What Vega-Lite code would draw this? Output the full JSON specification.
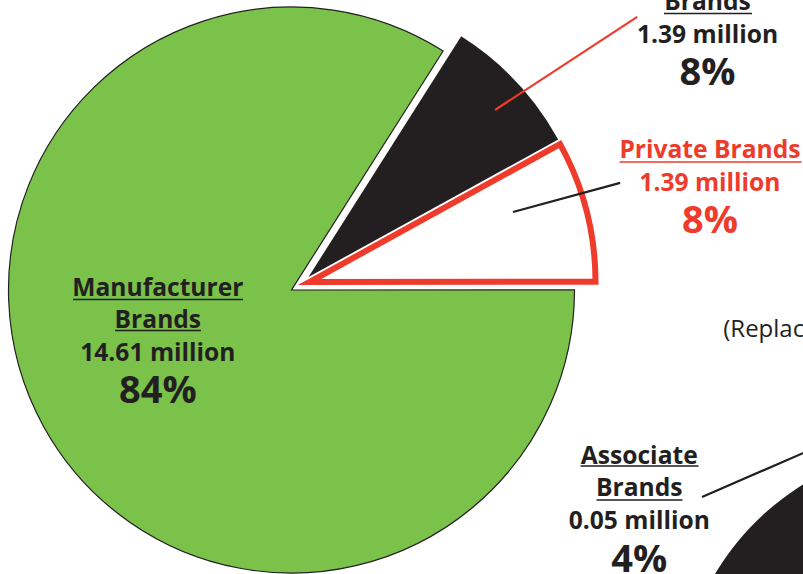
{
  "$schema": "https://vega.github.io/schema/vega-lite/v6.json",
  "autosize": {"type": "none"},
  "width": 583,
  "height": 580,
  "padding": {"left": 0, "top": 0, "right": 220, "bottom": 0},
  "background": "white",
  "config": {"view": {"stroke": null}, "text": {"font": "Open Sans", "fontWeight": "bold", "fontSize": 24.6, "align": "center", "baseline": "alphabetic", "color": "#231f20"}},
  "datasets": {
    "brands": [
      {"brand": "Manufacturer Brands", "millions": 14.61, "share": "84%"},
      {"brand": "Store Brands", "millions": 1.39, "share": "8%"},
      {"brand": "Private Brands", "millions": 1.39, "share": "8%"}
    ],
    "associate": [
      {"brand": "Associate Brands", "millions": 0.05, "share": "4%"}
    ]
  },
  "resolve": {"scale": {"theta": "independent"}},
  "layer": [
    {
      "data": {"name": "brands"},
      "mark": {"type": "arc", "outerRadius": 283, "fill": "#7bc24a", "stroke": "#231f20", "strokeWidth": 1.2},
      "encoding": {
        "theta": {"field": "millions", "type": "quantitative", "stack": true, "scale": {"range": [0.5655, 6.8487]}},
        "order": {"field": "brand", "sort": "descending"},
        "opacity": {"condition": {"test": "datum.brand === 'Manufacturer Brands'", "value": 1}, "value": 0}
      }
    },
    {
      "data": {"name": "brands"},
      "mark": {"type": "arc", "outerRadius": 285, "fill": "#231f20", "xOffset": 17, "yOffset": -13},
      "encoding": {
        "theta": {"field": "millions", "type": "quantitative", "stack": true, "scale": {"range": [0.5655, 6.8487]}},
        "order": {"field": "brand", "sort": "descending"},
        "opacity": {"condition": {"test": "datum.brand === 'Store Brands'", "value": 1}, "value": 0}
      }
    },
    {
      "data": {"name": "brands"},
      "mark": {"type": "arc", "outerRadius": 286, "fill": "#ffffff", "stroke": "#ee3b2b", "strokeWidth": 6, "strokeMiterLimit": 10, "xOffset": 18, "yOffset": -8},
      "encoding": {
        "theta": {"field": "millions", "type": "quantitative", "stack": true, "scale": {"range": [0.5655, 6.8487]}},
        "order": {"field": "brand", "sort": "descending"},
        "opacity": {"condition": {"test": "datum.brand === 'Private Brands'", "value": 1}, "value": 0}
      }
    },
    {
      "data": {"name": "brands"},
      "mark": {"type": "arc", "innerRadius": 50, "outerRadius": 220, "padAngle": 3, "fill": "#ee3b2b", "stroke": "#ee3b2b", "strokeWidth": 2.2, "xOffset": 161.7, "yOffset": -152.6},
      "encoding": {
        "theta": {"field": "millions", "type": "quantitative", "stack": true, "scale": {"domain": [0, 100], "range": [0.947, 7.2302]}},
        "order": {"field": "brand", "sort": "descending"},
        "opacity": {"condition": {"test": "datum.brand === 'Store Brands'", "value": 1}, "value": 0}
      }
    },
    {
      "data": {"name": "brands"},
      "mark": {"type": "arc", "innerRadius": 50, "outerRadius": 161, "padAngle": 3, "fill": "#231f20", "stroke": "#231f20", "strokeWidth": 2.2, "xOffset": 173.25, "yOffset": -64.9},
      "encoding": {
        "theta": {"field": "millions", "type": "quantitative", "stack": true, "scale": {"domain": [0, 100], "range": [1.1745, 7.4577]}},
        "order": {"field": "brand", "sort": "descending"},
        "opacity": {"condition": {"test": "datum.brand === 'Private Brands'", "value": 1}, "value": 0}
      }
    },
    {
      "data": {"name": "brands"},
      "mark": {"type": "arc", "innerRadius": 50, "outerRadius": 220, "padAngle": 3, "fill": "#231f20", "stroke": "#231f20", "strokeWidth": 1.6, "xOffset": -268.5, "yOffset": 9.5},
      "encoding": {
        "theta": {"field": "millions", "type": "quantitative", "stack": true, "scale": {"domain": [0, 100], "range": [0.9371, 7.2203]}},
        "order": {"field": "brand", "sort": "descending"},
        "opacity": {"condition": {"test": "datum.brand === 'Manufacturer Brands'", "value": 1}, "value": 0}
      }
    },
    {
      "data": {"name": "brands"},
      "mark": {"type": "arc", "innerRadius": 50, "outerRadius": 136, "padAngle": 3, "fill": "#231f20", "stroke": "#231f20", "strokeWidth": 1.6, "xOffset": -226.5, "yOffset": 40.5},
      "encoding": {
        "theta": {"field": "millions", "type": "quantitative", "stack": true, "scale": {"domain": [0, 100], "range": [0.9371, 7.2203]}},
        "order": {"field": "brand", "sort": "descending"},
        "opacity": {"condition": {"test": "datum.brand === 'Manufacturer Brands'", "value": 1}, "value": 0}
      }
    },
    {
      "data": {"name": "brands"},
      "mark": {"type": "arc", "innerRadius": 50, "outerRadius": 138, "padAngle": 3, "fill": "#231f20", "stroke": "#231f20", "strokeWidth": 1.6, "xOffset": 322.5, "yOffset": -276.5},
      "encoding": {
        "theta": {"field": "millions", "type": "quantitative", "stack": true, "scale": {"domain": [0, 100], "range": [1.5271, 7.8103]}},
        "order": {"field": "brand", "sort": "descending"},
        "opacity": {"condition": {"test": "datum.brand === 'Store Brands'", "value": 1}, "value": 0}
      }
    },
    {
      "data": {"name": "brands"},
      "mark": {"type": "arc", "innerRadius": 50, "outerRadius": 232, "padAngle": 3, "fill": "#ee3b2b", "stroke": "#ee3b2b", "strokeWidth": 1.6, "xOffset": 278, "yOffset": -128},
      "encoding": {
        "theta": {"field": "millions", "type": "quantitative", "stack": true, "scale": {"domain": [0, 100], "range": [1.4398, 7.723]}},
        "order": {"field": "brand", "sort": "descending"},
        "opacity": {"condition": {"test": "datum.brand === 'Private Brands'", "value": 1}, "value": 0}
      }
    },
    {
      "data": {"name": "brands"},
      "mark": {"type": "text", "radius": 140, "dx": -11, "dy": -61.5, "lineBreak": " ", "lineHeight": 32},
      "encoding": {
        "theta": {"field": "millions", "type": "quantitative", "stack": true, "scale": {"range": [0.5655, 6.8487]}},
        "order": {"field": "brand", "sort": "descending"},
        "text": {"condition": {"test": "datum.brand === 'Manufacturer Brands'", "field": "brand"}, "value": ""}
      }
    },
    {
      "data": {"name": "brands"},
      "transform": [{"calculate": "format(datum.millions, '.2f') + ' million'", "as": "amount"}],
      "mark": {"type": "text", "radius": 140, "dx": -11, "dy": 3.5},
      "encoding": {
        "theta": {"field": "millions", "type": "quantitative", "stack": true, "scale": {"range": [0.5655, 6.8487]}},
        "order": {"field": "brand", "sort": "descending"},
        "text": {"condition": {"test": "datum.brand === 'Manufacturer Brands'", "field": "amount"}, "value": ""}
      }
    },
    {
      "data": {"name": "brands"},
      "mark": {"type": "text", "radius": 140, "dx": -11, "dy": 45.5, "fontSize": 38},
      "encoding": {
        "theta": {"field": "millions", "type": "quantitative", "stack": true, "scale": {"range": [0.5655, 6.8487]}},
        "order": {"field": "brand", "sort": "descending"},
        "text": {"condition": {"test": "datum.brand === 'Manufacturer Brands'", "field": "share"}, "value": ""}
      }
    },
    {
      "data": {"name": "brands"},
      "mark": {"type": "text", "radius": 450, "dx": 88, "dy": -4, "lineBreak": " ", "lineHeight": 32},
      "encoding": {
        "theta": {"field": "millions", "type": "quantitative", "stack": true, "scale": {"range": [0.5655, 6.8487]}},
        "order": {"field": "brand", "sort": "descending"},
        "text": {"condition": {"test": "datum.brand === 'Store Brands'", "field": "brand"}, "value": ""}
      }
    },
    {
      "data": {"name": "brands"},
      "transform": [{"calculate": "format(datum.millions, '.2f') + ' million'", "as": "amount"}],
      "mark": {"type": "text", "radius": 450, "dx": 88, "dy": 61},
      "encoding": {
        "theta": {"field": "millions", "type": "quantitative", "stack": true, "scale": {"range": [0.5655, 6.8487]}},
        "order": {"field": "brand", "sort": "descending"},
        "text": {"condition": {"test": "datum.brand === 'Store Brands'", "field": "amount"}, "value": ""}
      }
    },
    {
      "data": {"name": "brands"},
      "mark": {"type": "text", "radius": 450, "dx": 88, "dy": 103, "fontSize": 38},
      "encoding": {
        "theta": {"field": "millions", "type": "quantitative", "stack": true, "scale": {"range": [0.5655, 6.8487]}},
        "order": {"field": "brand", "sort": "descending"},
        "text": {"condition": {"test": "datum.brand === 'Store Brands'", "field": "share"}, "value": ""}
      }
    },
    {
      "data": {"name": "brands"},
      "mark": {"type": "text", "radius": 430, "dx": 2, "dy": -25, "color": "#ee3b2b"},
      "encoding": {
        "theta": {"field": "millions", "type": "quantitative", "stack": true, "scale": {"range": [0.5655, 6.8487]}},
        "order": {"field": "brand", "sort": "descending"},
        "text": {"condition": {"test": "datum.brand === 'Private Brands'", "field": "brand"}, "value": ""}
      }
    },
    {
      "data": {"name": "brands"},
      "transform": [{"calculate": "format(datum.millions, '.2f') + ' million'", "as": "amount"}],
      "mark": {"type": "text", "radius": 430, "dx": 2, "dy": 8, "color": "#ee3b2b"},
      "encoding": {
        "theta": {"field": "millions", "type": "quantitative", "stack": true, "scale": {"range": [0.5655, 6.8487]}},
        "order": {"field": "brand", "sort": "descending"},
        "text": {"condition": {"test": "datum.brand === 'Private Brands'", "field": "amount"}, "value": ""}
      }
    },
    {
      "data": {"name": "brands"},
      "mark": {"type": "text", "radius": 430, "dx": 2, "dy": 50, "fontSize": 38, "color": "#ee3b2b"},
      "encoding": {
        "theta": {"field": "millions", "type": "quantitative", "stack": true, "scale": {"range": [0.5655, 6.8487]}},
        "order": {"field": "brand", "sort": "descending"},
        "text": {"condition": {"test": "datum.brand === 'Private Brands'", "field": "share"}, "value": ""}
      }
    },
    {
      "data": {"name": "associate"},
      "mark": {"type": "arc", "outerRadius": 263, "fill": "#231f20", "xOffset": 648.5, "yOffset": 420},
      "encoding": {
        "theta": {"field": "millions", "type": "quantitative", "stack": true, "scale": {"range": [2.157, 8.44]}}
      }
    },
    {
      "data": {"name": "associate"},
      "mark": {"type": "arc", "innerRadius": 50, "outerRadius": 170, "padAngle": 3, "fill": "#231f20", "stroke": "#231f20", "strokeWidth": 2.2, "xOffset": 364.65, "yOffset": 226.95},
      "encoding": {
        "theta": {"field": "millions", "type": "quantitative", "stack": true, "scale": {"domain": [0, 100], "range": [1.1591, 7.4423]}}
      }
    },
    {
      "data": {"name": "associate"},
      "mark": {"type": "arc", "innerRadius": 50, "outerRadius": 168, "padAngle": 3, "fill": "#231f20", "stroke": "#231f20", "strokeWidth": 1.6, "xOffset": 239, "yOffset": 176},
      "encoding": {
        "theta": {"field": "millions", "type": "quantitative", "stack": true, "scale": {"domain": [0, 100], "range": [1.5692, 7.8524]}}
      }
    },
    {
      "data": {"name": "associate"},
      "mark": {"type": "arc", "innerRadius": 50, "outerRadius": 136, "padAngle": 3, "fill": "#231f20", "stroke": "#231f20", "strokeWidth": 1.6, "xOffset": 255, "yOffset": 210},
      "encoding": {
        "theta": {"field": "millions", "type": "quantitative", "stack": true, "scale": {"domain": [0, 100], "range": [1.5692, 7.8524]}}
      }
    },
    {
      "data": {"name": "associate"},
      "mark": {"type": "text", "radius": 361, "xOffset": 648.5, "yOffset": 420, "dy": -46, "lineBreak": " ", "lineHeight": 32},
      "encoding": {
        "theta": {"field": "millions", "type": "quantitative", "stack": true, "scale": {"range": [2.157, 8.44]}},
        "text": {"field": "brand"}
      }
    },
    {
      "data": {"name": "associate"},
      "transform": [{"calculate": "format(datum.millions, '.2f') + ' million'", "as": "amount"}],
      "mark": {"type": "text", "radius": 361, "xOffset": 648.5, "yOffset": 420, "dy": 19},
      "encoding": {
        "theta": {"field": "millions", "type": "quantitative", "stack": true, "scale": {"range": [2.157, 8.44]}},
        "text": {"field": "amount"}
      }
    },
    {
      "data": {"name": "associate"},
      "mark": {"type": "text", "radius": 361, "xOffset": 648.5, "yOffset": 420, "dy": 62, "fontSize": 38},
      "encoding": {
        "theta": {"field": "millions", "type": "quantitative", "stack": true, "scale": {"range": [2.157, 8.44]}},
        "text": {"field": "share"}
      }
    },
    {
      "data": {"name": "associate"},
      "mark": {"type": "text", "radius": 361, "xOffset": 648.5, "yOffset": 420, "dx": 84, "dy": -173, "align": "left", "fontWeight": "normal", "fontSize": 24},
      "encoding": {
        "theta": {"field": "millions", "type": "quantitative", "stack": true, "scale": {"range": [2.157, 8.44]}},
        "text": {"value": "(Replacement)"}
      }
    }
  ]
}
